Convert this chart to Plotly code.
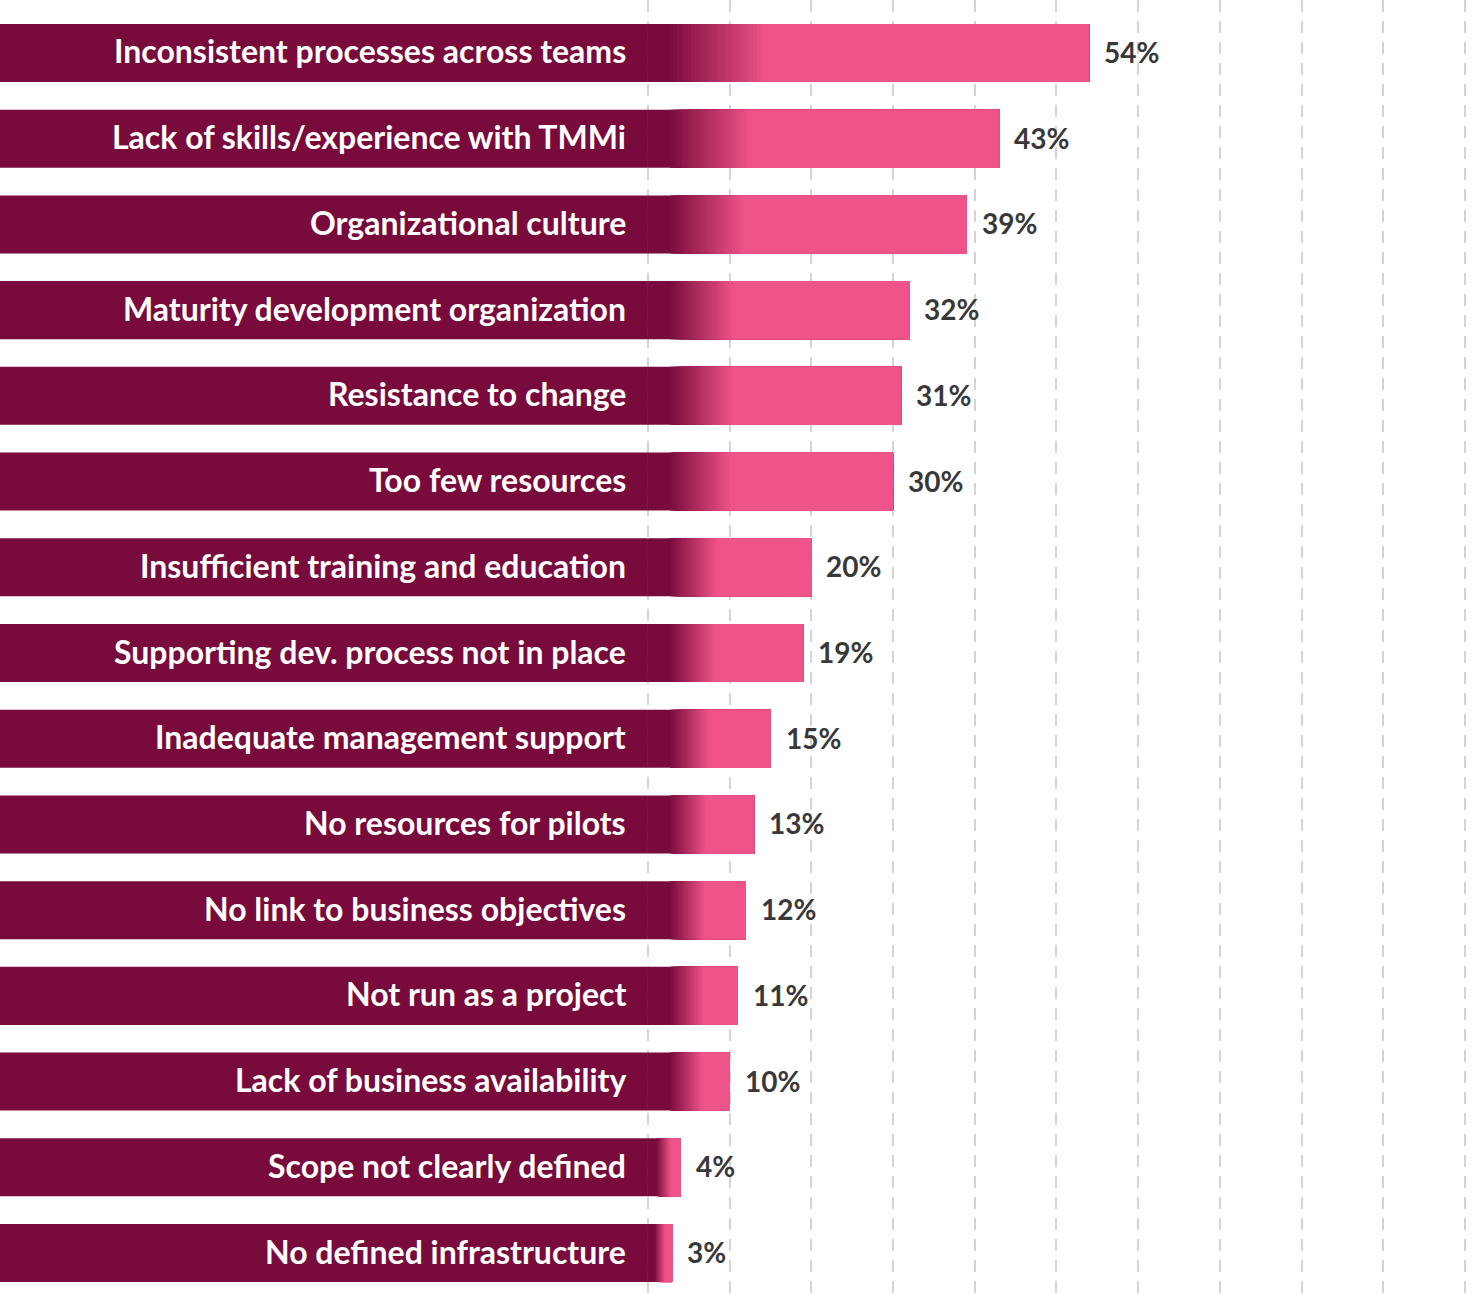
import plotly.graph_objects as go

categories = [
    "Inconsistent processes across teams",
    "Lack of skills/experience with TMMi",
    "Organizational culture",
    "Maturity development organization",
    "Resistance to change",
    "Too few resources",
    "Insufficient training and education",
    "Supporting dev. process not in place",
    "Inadequate management support",
    "No resources for pilots",
    "No link to business objectives",
    "Not run as a project",
    "Lack of business availability",
    "Scope not clearly defined",
    "No defined infrastructure",
]
values = [54, 43, 39, 32, 31, 30, 20, 19, 15, 13, 12, 11, 10, 4, 3]
value_labels = [f"{v}%" for v in values]
grid_ticks = list(range(0, 101, 10))

# style
MAROON = (120, 11, 59)
PINK = (238, 83, 137)
LABEL_BOX = 79.3          # width of label area, in axis units
BAR_W = 0.677
N_STEPS = 28

def rgb(c):
    return "rgb(%d,%d,%d)" % c

def mix(a, b, t):
    return tuple(round(a[i] + (b[i] - a[i]) * t) for i in range(3))

ypos = list(range(len(categories)))
g_start = [min(2.7, 0.27 * v) for v in values]
g_end = [min(4.9 + 0.18 * v, 0.7 * v) for v in values]

fig = go.Figure()

# label boxes
fig.add_trace(go.Bar(
    y=ypos, x=[LABEL_BOX] * len(values), base=[-LABEL_BOX] * len(values),
    orientation="h", width=BAR_W, marker=dict(color=rgb(MAROON), line=dict(width=0)),
    hoverinfo="skip", showlegend=False,
))
# dark start of value bars
fig.add_trace(go.Bar(
    y=ypos, x=values, base=[0] * len(values),
    orientation="h", width=BAR_W, marker=dict(color=rgb(MAROON), line=dict(width=0)),
    hoverinfo="skip", showlegend=False,
))
# gradient steps (each runs to the bar end, later steps painted over earlier ones)
for k in range(1, N_STEPS + 1):
    t = k / N_STEPS
    bases = [s + (e - s) * (k - 1) / N_STEPS for s, e in zip(g_start, g_end)]
    fig.add_trace(go.Bar(
        y=ypos, x=[v - b for v, b in zip(values, bases)], base=bases,
        orientation="h", width=BAR_W,
        marker=dict(color=rgb(mix(MAROON, PINK, t)), line=dict(width=0)),
        hoverinfo="skip", showlegend=False,
    ))
# solid pink remainder
fig.add_trace(go.Bar(
    y=ypos, x=[v - e for v, e in zip(values, g_end)], base=g_end,
    orientation="h", width=BAR_W, marker=dict(color=rgb(PINK), line=dict(width=0)),
    hovertemplate="%{y}: %{customdata}<extra></extra>", customdata=value_labels,
    showlegend=False,
))

annotations = []
for i, (c, v, lab) in enumerate(zip(categories, values, value_labels)):
    annotations.append(dict(
        x=0, y=i, xref="x", yref="y", text=c, showarrow=False,
        xanchor="right", yanchor="middle", xshift=-20, yshift=2,
        font=dict(family="Lato", size=32, color="white", weight="bold"),
    ))
    annotations.append(dict(
        x=v, y=i, xref="x", yref="y", text=lab, showarrow=False,
        xanchor="left", yanchor="middle", xshift=13, yshift=1,
        font=dict(family="Lato", size=28, color="#383838", weight="bold"),
    ))

fig.update_layout(
    width=1474, height=1294,
    margin=dict(l=0, r=0, t=0, b=0),
    paper_bgcolor="white", plot_bgcolor="white",
    barmode="overlay",
    annotations=annotations,
    xaxis=dict(
        range=[-LABEL_BOX, 101.1], tickvals=grid_ticks, showticklabels=False,
        showgrid=True, gridcolor="#d4d4d4", gridwidth=2, griddash="12px,9px",
        zeroline=False, showline=False, ticks="",
    ),
    yaxis=dict(
        range=[14.478, -0.618], showticklabels=False, showgrid=False,
        zeroline=False, showline=False, ticks="",
    ),
)

fig.write_html("out.html", config={"displayModeBar": False},
               post_script="document.body.style.margin='0';")
